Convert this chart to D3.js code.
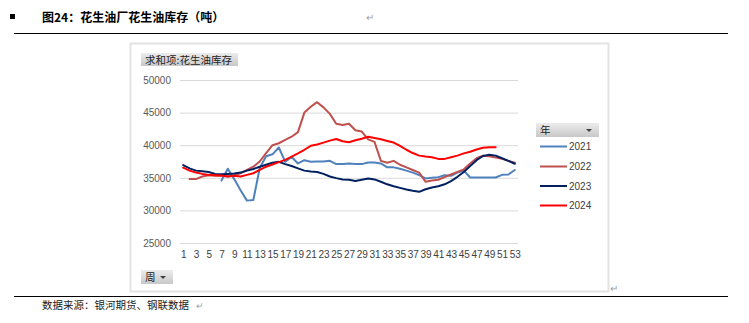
<!DOCTYPE html>
<html>
<head>
<meta charset="utf-8">
<script src="https://cdn.jsdelivr.net/npm/d3@7/dist/d3.min.js"></script>
<style>
  html, body { margin: 0; padding: 0; background: #fff; }
  svg { display: block; }
</style>
</head>
<body>
<svg id="chart" width="749" height="323"></svg>
<script>
// Weekly peanut-oil inventory at crushing plants (tonnes), by year
const weeks = d3.range(1, 54);
const xTickWeeks = weeks.filter(w => w % 2 === 1);
const yTicks = [25000, 30000, 35000, 40000, 45000, 50000];
const years = ["2021", "2022", "2023", "2024"];
const colors = ["#4F81BD", "#C0504D", "#002060", "#FF0000"];

const y2021 = [null, null, null, null, null, null,
  34600, 36400, 34800, 33100, 31500, 31600, 36500, 38300, 38600, 39650,
  37450, 38200, 37200, 37700, 37450, 37500, 37500, 37600, 37100, 37100,
  37200, 37100, 37100, 37350, 37350, 37200, 36600, 36600, 36400, 36100,
  35800, 35400, 34900, 35000, 35100, 35400, 35300, 35800, 36100, 35050,
  35050, 35050, 35050, 35050, 35450, 35500, 36200];
const y2022 = [null,
  34800, 34800, 35200, 35400, 35300, 35300, 35200, 35400, 35700, 36200,
  36700, 37500, 38800, 40000, 40300, 40800, 41300, 42000, 45000, 45900,
  46600, 45800, 44800, 43300, 43100, 43300, 42300, 42100, 40900, 40500,
  37600, 37300, 37600, 37000, 36600, 36200, 35800, 34400, 34600, 34700,
  35100, 35500, 35900, 36300, 37200, 38000, 38400, 38300, 38100, 37900,
  37600, 37300];
const y2023 = [
  36950, 36450, 36100, 36000, 35900, 35600, 35550, 35600, 35650, 35800,
  36100, 36350, 36700, 37000, 37300, 37450, 37100, 36800, 36450, 36100,
  35950, 35900, 35600, 35200, 34950, 34750, 34700, 34500, 34700, 34900,
  34750, 34400, 34000, 33700, 33450, 33200, 33000, 32850, 33250, 33500,
  33700, 34000, 34500, 35150, 35900, 36800, 37700, 38350, 38550, 38400,
  38000, 37600, 37150, null].slice(0, 53);
const y2024 = [
  36550, 36100, 35800, 35600, 35450, 35400, 35350, 35200, 35300, 35200,
  35450, 35700, 36200, 36700, 37050, 37400, 37750, 38250, 38750, 39300,
  39900, 40100, 40400, 40700, 40950, 40600, 40450, 40750, 41000, 41300,
  41100, 40900, 40650, 40400, 39900, 39300, 38800, 38400, 38250, 38150,
  37900, 37900, 38150, 38400, 38750, 39000, 39350, 39600, 39700, 39700,
  null, null, null];
const seriesValues = [y2021, y2022, y2023, y2024];

const svg = d3.select("#chart");
const cjk = "'Noto Sans CJK SC', 'Noto Sans', sans-serif";
const latin = "'Liberation Sans', Arial, sans-serif";

// ---- document frame: bullet, caption, rules, source note ----
svg.append("rect").attr("x", 10).attr("y", 14).attr("width", 5).attr("height", 5).attr("fill", "#000");
svg.append("text").attr("x", 42).attr("y", 22)
  .attr("font-family", cjk).attr("font-size", 12).attr("font-weight", "bold").attr("fill", "#000")
  .text("图24：花生油厂花生油库存（吨）");
svg.append("text").attr("x", 366).attr("y", 21)
  .attr("font-family", cjk).attr("font-size", 10).attr("fill", "#a0a0a0").text("↵");
svg.append("line").attr("x1", 14).attr("x2", 728).attr("y1", 33.5).attr("y2", 33.5)
  .attr("stroke", "#000").attr("stroke-width", 1.2);
svg.append("line").attr("x1", 14).attr("x2", 728).attr("y1", 296.5).attr("y2", 296.5)
  .attr("stroke", "#000").attr("stroke-width", 1.2);
svg.append("text").attr("x", 42).attr("y", 309)
  .attr("font-family", cjk).attr("font-size", 10.5).attr("fill", "#222")
  .text("数据来源：银河期货、钢联数据");
svg.append("text").attr("x", 196).attr("y", 309)
  .attr("font-family", cjk).attr("font-size", 9).attr("fill", "#a0a0a0").text("↵");
svg.append("text").attr("x", 610).attr("y", 292)
  .attr("font-family", cjk).attr("font-size", 10).attr("fill", "#a0a0a0").text("↵");

// ---- chart box ----
svg.append("rect").attr("x", 130.5).attr("y", 43.5).attr("width", 478).attr("height", 248)
  .attr("fill", "#fff").attr("stroke", "#e3e3e3").attr("stroke-width", 2);

// gradient for pivot field buttons
const defs = svg.append("defs");
const grad = defs.append("linearGradient").attr("id", "btn").attr("x1", 0).attr("y1", 0).attr("x2", 0).attr("y2", 1);
grad.append("stop").attr("offset", "0%").attr("stop-color", "#ececec");
grad.append("stop").attr("offset", "100%").attr("stop-color", "#c8c8c8");

function fieldButton(x, y, w, h, label, arrow) {
  const g = svg.append("g");
  g.append("rect").attr("x", x).attr("y", y).attr("width", w).attr("height", h).attr("fill", "url(#btn)");
  g.append("text").attr("x", x + 4).attr("y", y + h / 2 + 4)
    .attr("font-family", cjk).attr("font-size", 10.5).attr("fill", "#222").text(label);
  if (arrow) {
    const ax = x + w - 10, ay = y + h / 2 - 1;
    g.append("path").attr("d", `M${ax - 3},${ay} L${ax + 3},${ay} L${ax},${ay + 3} Z`).attr("fill", "#404040");
  }
}
fieldButton(141, 53, 97, 13, "求和项:花生油库存", false);
fieldButton(141, 270, 32, 14, "周", true);
fieldButton(536, 123, 63, 14, "年", true);

// ---- scales ----
const x = d3.scalePoint().domain(weeks).range([180, 518]).padding(0.5);
const y = d3.scaleLinear().domain([25000, 50000]).range([243, 80]);

// gridlines
svg.append("g").attr("transform", "translate(180,0)")
  .call(d3.axisLeft(y).tickValues(yTicks).tickSize(-338).tickFormat(""))
  .call(g => g.select(".domain").remove())
  .call(g => g.selectAll("line").attr("stroke", "#d9d9d9").attr("stroke-width", 1));

// y axis labels
svg.append("g").attr("transform", "translate(174,0)")
  .call(d3.axisLeft(y).tickValues(yTicks).tickSize(0).tickPadding(3).tickFormat(d3.format("d")))
  .call(g => g.select(".domain").remove())
  .call(g => g.selectAll("text").attr("font-family", latin).attr("font-size", 10).attr("fill", "#595959"));

// x axis labels
svg.append("g").attr("transform", "translate(0,251)")
  .call(d3.axisBottom(x).tickValues(xTickWeeks).tickSize(0).tickPadding(0))
  .call(g => g.select(".domain").remove())
  .call(g => g.selectAll("text").attr("font-family", latin).attr("font-size", 10).attr("fill", "#404040"));

// ---- series lines ----
const line = d3.line()
  .defined(d => d.v != null)
  .x(d => x(d.w))
  .y(d => y(d.v));

seriesValues.forEach((vals, i) => {
  const pts = weeks.map((w, j) => ({ w, v: vals[j] == null ? null : vals[j] }));
  svg.append("path").datum(pts)
    .attr("fill", "none").attr("stroke", colors[i]).attr("stroke-width", 2)
    .attr("stroke-linejoin", "round").attr("stroke-linecap", "round")
    .attr("d", line);
});

// ---- legend ----
const legendY = [146.5, 166.5, 186, 205.5];
years.forEach((yr, i) => {
  svg.append("line").attr("x1", 540).attr("x2", 567).attr("y1", legendY[i]).attr("y2", legendY[i])
    .attr("stroke", colors[i]).attr("stroke-width", 2);
  svg.append("text").attr("x", 569).attr("y", legendY[i] + 3.5)
    .attr("font-family", latin).attr("font-size", 10).attr("fill", "#404040").text(yr);
});
</script>
</body>
</html>
